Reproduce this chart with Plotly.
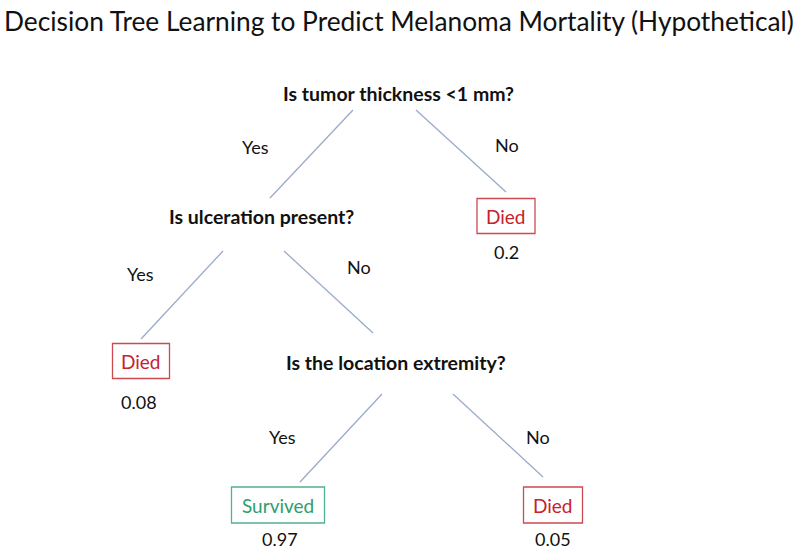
import plotly.graph_objects as go

# tree content
title_text = "Decision Tree Learning to Predict Melanoma Mortality (Hypothetical)"
questions = ["Is tumor thickness <1 mm?", "Is ulceration present?", "Is the location extremity?"]
outcomes = ["Died", "Died", "Survived", "Died"]
probabilities = ["0.2", "0.08", "0.97", "0.05"]
branch_labels = ["Yes", "No", "Yes", "No", "Yes", "No"]

# layout in pixel space (y measured from top)
question_pos = [(398, 93), (261, 216), (396, 362)]
outcome_pos = [(506, 216), (141, 361), (278, 505), (553, 505)]
outcome_size = [(58, 35), (57, 35), (93, 36), (59, 36)]
prob_pos = [(506, 252), (139, 402), (280, 539), (553, 539)]
branch_pos = [(255, 147), (507, 145), (140, 274), (359, 267), (282, 437), (538, 437)]
edges = [((353, 110), (270, 198)), ((416, 110), (506, 192)),
         ((223, 251), (141, 339)), ((284, 251), (373, 333)),
         ((382, 394), (300, 482)), ((453, 394), (543, 477))]

FONT = "Lato"
LINE = "#9aabc9"
RED_TXT, RED_BOX = "#c8202c", "#cc4a52"
GREEN_TXT, GREEN_BOX = "#2e9e6a", "#4fb38b"

fig = go.Figure()

for (x0, y0), (x1, y1) in edges:
    fig.add_trace(go.Scatter(x=[x0, x1], y=[y0, y1], mode="lines",
                             line=dict(color=LINE, width=1.3), hoverinfo="skip"))

ann = []
ann.append(dict(x=399, y=21, text=title_text, font=dict(size=26.3, color="#111")))
for q, (x, y) in zip(questions, question_pos):
    ann.append(dict(x=x, y=y, text="<b>" + q + "</b>", font=dict(size=19.5, color="#111")))
for b, (x, y) in zip(branch_labels, branch_pos):
    ann.append(dict(x=x, y=y, text=b, font=dict(size=18, color="#111")))
for p, (x, y) in zip(probabilities, prob_pos):
    ann.append(dict(x=x, y=y, text=p, font=dict(size=18, color="#111")))

shapes = []
for o, (x, y), (w, h) in zip(outcomes, outcome_pos, outcome_size):
    txt, box = (GREEN_TXT, GREEN_BOX) if o == "Survived" else (RED_TXT, RED_BOX)
    shapes.append(dict(type="rect", x0=x - w / 2, x1=x + w / 2, y0=y - h / 2, y1=y + h / 2,
                       line=dict(color=box, width=1.3), xref="x", yref="y"))
    ann.append(dict(x=x, y=y, text=o, font=dict(size=19, color=txt)))

for a in ann:
    a.update(xref="x", yref="y", showarrow=False, xanchor="center", yanchor="middle")
    a["font"]["family"] = FONT

fig.update_layout(
    width=800, height=551, margin=dict(l=0, r=0, t=0, b=0),
    paper_bgcolor="white", plot_bgcolor="white", showlegend=False,
    xaxis=dict(range=[0, 800], visible=False, fixedrange=True),
    yaxis=dict(range=[551, 0], visible=False, fixedrange=True),
    annotations=ann, shapes=shapes,
)

# drop the default page margin so the figure sits at the window's top-left
fig.write_html("out.html", config={"displayModeBar": False},
               post_script="document.body.style.margin='0';")
